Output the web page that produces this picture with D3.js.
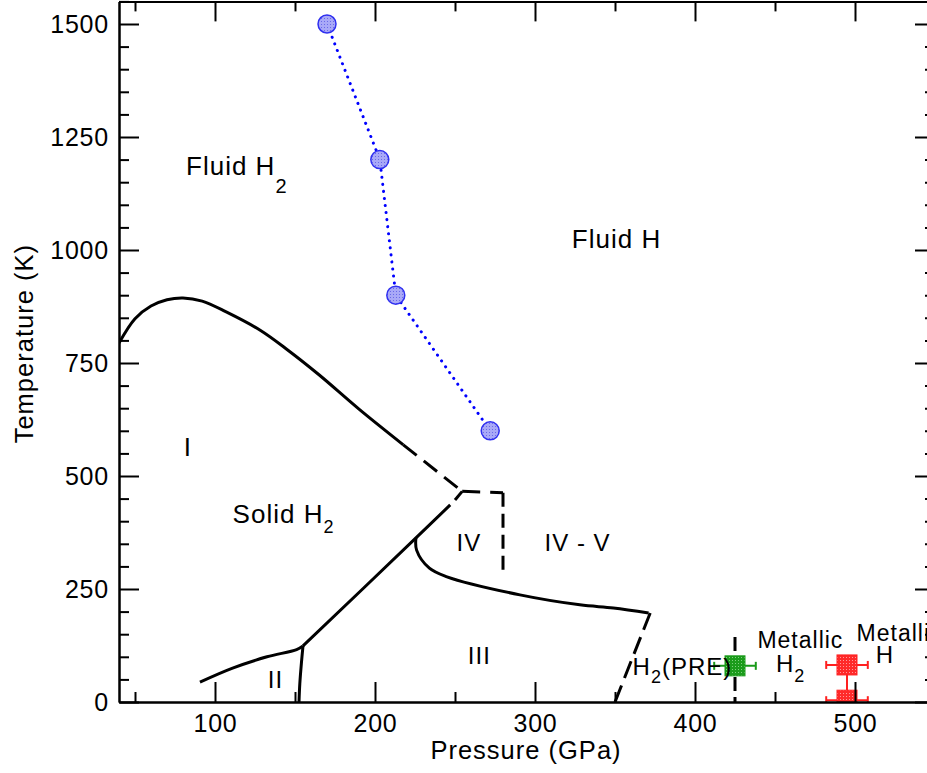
<!DOCTYPE html>
<html>
<head>
<meta charset="utf-8">
<script src="https://cdn.jsdelivr.net/npm/d3@7"></script>
<style>
  html, body { margin: 0; padding: 0; background: #fff; }
  svg { display: block; font-family: "Liberation Sans", Arial, Helvetica, sans-serif; }
</style>
</head>
<body>
<div id="chart"></div>
<script>
// ---------------- data ----------------
const majorXTicks = [100, 200, 300, 400, 500];
const minorXTicks = [50, 150, 250, 350, 450, 550];
const majorYTicks = [0, 250, 500, 750, 1000, 1250, 1500];
const minorYTicks = d3.range(0, 1551, 50).filter(v => v % 250 !== 0);

// Fluid H2 -> Fluid H transition (blue circles)
const fluidP = [170, 203, 213, 272];
const fluidT = [1500, 1200, 900, 600];

// melting line of solid H2 (solid part)
const meltSolid = [[40, 794], [50, 848], [60, 876], [70, 890], [80, 894], [92, 887], [107, 863],
                   [128, 823], [145, 780], [165, 724], [190, 648], [217.7, 569]];
const meltDashed = [[217.7, 569], [254.5, 466]];
// IV / IV-V boundaries (dashed)
const ivTop = [[254.5, 466], [280, 463]];
const ivRight = [[280, 463], [280, 285]];
// I - III boundary
const i3Solid = [[155, 124], [225.6, 363], [247, 436]];
const i3Dash = [[250, 447], [254.5, 466]];
// III - IV boundary
const iii4 = [[225.6, 363], [226, 336], [234, 296], [245, 277], [290.6, 237], [328, 215], [349, 208], [371, 197]];
// III - PRE boundary (dashed)
const iiiPre = [[372, 197], [350, 0]];
// I - II boundary
const i2 = [[90.6, 44], [111, 75], [132.5, 100], [151, 116], [155, 124]];
// II - III boundary
const ii3 = [[155, 124], [154, 86], [153, 40], [152.5, 0]];
// PRE - metallic H2 (dashed)
const preMet = [[425, 144], [425, 0]];

// experimental points with error bars
const greenP = [425], greenT = [80], greenErrP = [13];
const redP = [495, 495], redT = [82, 4], redErrP = [13, 13], redErrTUp = [0, 78];

// text annotations [text, subscript, P, T, fontSize]
const labels = [
  ["Fluid H", "2", 81.9, 1166, 26],
  ["Fluid H", "", 323, 1004, 26],
  ["Solid H", "2", 111, 396, 26],
  ["I", "", 80.5, 544, 26],
  ["IV", "", 251, 334, 24],
  ["IV - V", "", 306, 334, 24],
  ["III", "", 258, 84, 24],
  ["II", "", 133, 31, 24],
  ["H", "2(PRE)", 361, 60, 24],
  ["Metallic", "", 439, 119, 23],
  ["H", "2", 450.6, 66, 24],
  ["Metallic", "", 501, 135, 23],
  ["H", "", 513, 86, 24]
];

// ---------------- chart ----------------
const W = 927, H = 773;
const x = d3.scaleLinear().domain([40, 550]).range([119, 935]);
const y = d3.scaleLinear().domain([0, 1550]).range([702, 1.4]);

const svg = d3.select("#chart").append("svg").attr("width", W).attr("height", H);

const defs = svg.append("defs");
function pat(id, bg, dot) {
  const p = defs.append("pattern").attr("id", id).attr("width", 3).attr("height", 3)
    .attr("patternUnits", "userSpaceOnUse");
  p.append("rect").attr("width", 3).attr("height", 3).attr("fill", bg);
  p.append("rect").attr("width", 1).attr("height", 1).attr("fill", dot);
}
pat("pBlue", "#a9a9f7", "#6a6ae8");
pat("pGreen", "#1c9c1c", "#7fd07f");
pat("pRed", "#ff2a2a", "#ff9a9a");

// clip for plot area
defs.append("clipPath").attr("id", "plotClip").append("rect")
  .attr("x", x(40)).attr("y", y(1550)).attr("width", x(550) - x(40)).attr("height", y(0) - y(1550));

const line = d3.line().x(d => x(d[0])).y(d => y(d[1]));
const smooth = d3.line().x(d => x(d[0])).y(d => y(d[1])).curve(d3.curveCatmullRom.alpha(0.5));

const g = svg.append("g").attr("clip-path", "url(#plotClip)");

function drawPath(data, gen, dash) {
  g.append("path").datum(data).attr("d", gen).attr("fill", "none")
    .attr("stroke", "#000").attr("stroke-width", 3)
    .attr("stroke-dasharray", dash || null);
}
drawPath(meltSolid, smooth);
drawPath(meltDashed, line, "17,9");
drawPath(ivTop, line, "18,10");
drawPath(ivRight, line, "14,7");
drawPath(i3Solid, smooth);
drawPath(i3Dash, line);
drawPath(iii4, smooth);
drawPath(iiiPre, line, "18,8");
drawPath(i2, smooth);
drawPath(ii3, smooth);
drawPath(preMet, line, "14,6");

// blue dotted line + circles
const fluidPts = fluidP.map((p, i) => [p, fluidT[i]]);
g.append("path").datum(fluidPts).attr("d", line).attr("fill", "none")
  .attr("stroke", "#0000ff").attr("stroke-width", 3).attr("stroke-linecap", "round")
  .attr("stroke-dasharray", "0.1,7");
g.selectAll("circle.fl").data(fluidPts).enter().append("circle").attr("class", "fl")
  .attr("cx", d => x(d[0])).attr("cy", d => y(d[1])).attr("r", 9)
  .attr("fill", "url(#pBlue)").attr("stroke", "#3030f0").attr("stroke-width", 1.5);

// error bars + squares
function errPoints(P, T, eP, color, fillId, eTUp) {
  P.forEach((p, i) => {
    const cx = x(p), cy = y(T[i]);
    const x0 = x(p - eP[i]), x1 = x(p + eP[i]);
    g.append("line").attr("x1", x0).attr("x2", x1).attr("y1", cy).attr("y2", cy)
      .attr("stroke", color).attr("stroke-width", 2);
    [x0, x1].forEach(xx => g.append("line").attr("x1", xx).attr("x2", xx)
      .attr("y1", cy - 4).attr("y2", cy + 4).attr("stroke", color).attr("stroke-width", 2));
    if (eTUp && eTUp[i] > 0) {
      g.append("line").attr("x1", cx).attr("x2", cx).attr("y1", cy).attr("y2", y(T[i] + eTUp[i]))
        .attr("stroke", color).attr("stroke-width", 2);
    }
  });
  P.forEach((p, i) => {
    g.append("rect").attr("x", x(p) - 10).attr("y", y(T[i]) - 10).attr("width", 20).attr("height", 20)
      .attr("fill", "url(#" + fillId + ")").attr("stroke", color).attr("stroke-width", 1);
  });
}
errPoints(greenP, greenT, greenErrP, "#1a9a1a", "pGreen");
errPoints(redP, redT, redErrP, "#ff2020", "pRed", redErrTUp);

// ---------------- axes ----------------
const fontSize = 25;
const fmt = d3.format("d");
function styleAxis(sel) {
  sel.select(".domain").attr("stroke", "#000").attr("stroke-width", 2);
  sel.selectAll(".tick line").attr("stroke", "#000").attr("stroke-width", 2);
  sel.selectAll(".tick text").attr("fill", "#000").attr("font-size", fontSize)
    .attr("font-family", "Liberation Sans, Arial, sans-serif").attr("letter-spacing", 0.8);
}
// bottom
const bMaj = svg.append("g").attr("transform", `translate(0,${y(0)})`)
  .call(d3.axisBottom(x).tickValues(majorXTicks).tickFormat(fmt).tickSizeInner(-20).tickSizeOuter(0).tickPadding(12));
styleAxis(bMaj);
const bMin = svg.append("g").attr("transform", `translate(0,${y(0)})`)
  .call(d3.axisBottom(x).tickValues(minorXTicks).tickSizeInner(-10).tickSizeOuter(0).tickFormat(""));
styleAxis(bMin);
// top
const tMaj = svg.append("g").attr("transform", `translate(0,${y(1550)})`)
  .call(d3.axisTop(x).tickValues(majorXTicks).tickSizeInner(-20).tickSizeOuter(0).tickFormat(""));
styleAxis(tMaj);
const tMin = svg.append("g").attr("transform", `translate(0,${y(1550)})`)
  .call(d3.axisTop(x).tickValues(minorXTicks).tickSizeInner(-10).tickSizeOuter(0).tickFormat(""));
styleAxis(tMin);
// left
const lMaj = svg.append("g").attr("transform", `translate(${x(40)},0)`)
  .call(d3.axisLeft(y).tickValues(majorYTicks).tickFormat(fmt).tickSizeInner(-20).tickSizeOuter(0).tickPadding(10));
styleAxis(lMaj);
const lMin = svg.append("g").attr("transform", `translate(${x(40)},0)`)
  .call(d3.axisLeft(y).tickValues(minorYTicks).tickSizeInner(-10).tickSizeOuter(0).tickFormat(""));
styleAxis(lMin);
// right
const rMaj = svg.append("g").attr("transform", `translate(${x(550)},0)`)
  .call(d3.axisRight(y).tickValues(majorYTicks).tickSizeInner(-20).tickSizeOuter(0).tickFormat(""));
styleAxis(rMaj);
const rMin = svg.append("g").attr("transform", `translate(${x(550)},0)`)
  .call(d3.axisRight(y).tickValues(minorYTicks).tickSizeInner(-10).tickSizeOuter(0).tickFormat(""));
styleAxis(rMin);

// axis titles
svg.append("text").attr("x", (x(40) + x(550)) / 2 - 1).attr("y", 759)
  .attr("text-anchor", "middle").attr("font-size", 25.5).attr("letter-spacing", 1)
  .text("Pressure (GPa)");
svg.append("text").attr("transform", `translate(33,${(y(0) + y(1550)) / 2 - 8}) rotate(-90)`)
  .attr("text-anchor", "middle").attr("font-size", 25.5).attr("letter-spacing", 1)
  .text("Temperature (K)");

// annotations
labels.forEach(([t, sub, p, T, fs]) => {
  const txt = svg.append("text").attr("x", x(p)).attr("y", y(T))
    .attr("font-size", fs).attr("letter-spacing", 1).attr("fill", "#000");
  txt.append("tspan").text(t);
  if (sub) {
    if (sub === "2") {
      const big = (t === "Fluid H");
      txt.append("tspan").attr("font-size", big ? 20 : 18).attr("dy", big ? 18 : 10).text("2");
    } else {
      txt.append("tspan").attr("font-size", 18).attr("dy", 8).text("2");
      txt.append("tspan").attr("dy", -8).text(sub.slice(1));
    }
  }
});
</script>
</body>
</html>
